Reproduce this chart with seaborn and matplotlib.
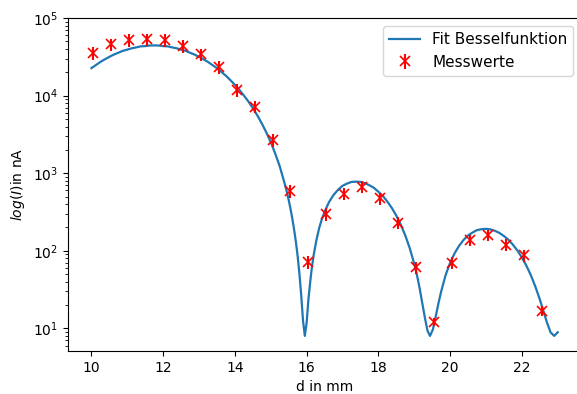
import numpy as np
import pandas as pd
import matplotlib
matplotlib.use('Agg')
import matplotlib.pyplot as plt
import seaborn as sns

d_mess = [10.05, 10.55, 11.05, 11.55, 12.05, 12.55, 13.05, 13.55, 14.05, 14.55,
          15.05, 15.55, 16.05, 16.55, 17.05, 17.55, 18.05, 18.55, 19.05, 19.55,
          20.05, 20.55, 21.05, 21.55, 22.05, 22.55]
I_mess = [36000, 46000, 52000, 53500, 52000, 44000, 34000, 23700, 11900, 7200,
          2690, 591, 71.6, 298, 546, 671, 475, 231, 61.8, 12.2,
          70.3, 138, 160, 119, 87.5, 16.9]
I_err = [7000, 8500, 9500, 9800, 9500, 8000, 6300, 4400, 2200, 1300,
         500, 110, 13, 55, 100, 120, 88, 42, 11, 1.6,
         12, 24, 28, 21, 15, 2.6]

# Fitkurve
d_fit = [10.0, 10.125, 10.25, 10.375, 10.5, 10.625, 10.75, 10.875, 11.0, 11.125,
         11.25, 11.375, 11.5, 11.625, 11.75, 11.875, 12.0, 12.125, 12.25, 12.375,
         12.5, 12.625, 12.75, 12.875, 13.0, 13.125, 13.25, 13.375, 13.5, 13.625,
         13.75, 13.875, 14.0, 14.125, 14.25, 14.375, 14.5, 14.625, 14.75, 14.875,
         15.0, 15.125, 15.25, 15.375, 15.45, 15.5, 15.55, 15.6, 15.65, 15.7,
         15.75, 15.8, 15.85, 15.9, 15.95, 16.0, 16.05, 16.1, 16.15, 16.2,
         16.275, 16.35, 16.425, 16.5, 16.625, 16.75, 16.875, 17.0, 17.125, 17.25,
         17.375, 17.5, 17.625, 17.75, 17.875, 18.0, 18.125, 18.25, 18.375, 18.5,
         18.625, 18.75, 18.875, 19.0, 19.075, 19.15, 19.225, 19.3, 19.37, 19.44,
         19.52, 19.6, 19.675, 19.75, 19.875, 20.0, 20.125, 20.25, 20.375, 20.5,
         20.625, 20.75, 20.875, 21.0, 21.125, 21.25, 21.375, 21.5, 21.625, 21.75,
         21.875, 22.0, 22.125, 22.25, 22.375, 22.5, 22.6, 22.7, 22.8, 22.9,
         23.0]
I_fit = [22650, 24820, 27210, 29450, 31660, 33890, 35750, 37860, 39250, 40860,
         41960, 43260, 43570, 44320, 44500, 44320, 43570, 43260, 41960, 40860,
         39250, 37860, 35750, 33890, 31660, 29450, 27210, 24820, 22650, 20220,
         18070, 15850, 13800, 11880, 10050, 8440, 6900, 5577, 4390, 3370,
         2515, 1792, 1230, 773, 572, 452, 349, 262, 189, 131,
         85, 50, 26.4, 12.5, 8.0, 11.8, 23.7, 39.8, 63, 90,
         139, 197, 256, 319, 425, 525, 611, 688, 735, 773,
         779, 773, 745, 700, 649, 578, 510, 431, 357, 284,
         217, 158, 108, 68, 48.8, 33, 21, 13.5, 9.3, 8.0,
         9.7, 14.3, 21.1, 29.8, 48.7, 70, 93, 116, 138, 158,
         172, 185, 190, 192, 189, 181, 170, 155, 139, 120,
         101, 82, 64.5, 48.6, 34.7, 23.7, 16.8, 11.9, 8.9, 8.0,
         8.9]

df_fit = pd.DataFrame({'d': d_fit, 'I': I_fit})

fig = plt.figure(figsize=(5.77, 3.94), dpi=100)
ax = fig.add_axes([0.118, 0.109, 0.889, 0.845])

sns.lineplot(data=df_fit, x='d', y='I', ax=ax, color='C0', linewidth=1.6,
             label='Fit Besselfunktion')
ax.errorbar(d_mess, I_mess, yerr=I_err, fmt='rx', markersize=7,
            markeredgewidth=1.2, label='Messwerte')

ax.set_yscale('log')
ax.set_xlim(9.35, 23.65)
ax.set_ylim(5.1, 1e5)
ax.set_xticks([10, 12, 14, 16, 18, 20, 22])
ax.set_xlabel('d in mm')
ax.set_ylabel(r'$log(I)$in nA')
ax.legend(loc='upper right', fontsize=11)

fig.savefig('out.png', dpi=100)
